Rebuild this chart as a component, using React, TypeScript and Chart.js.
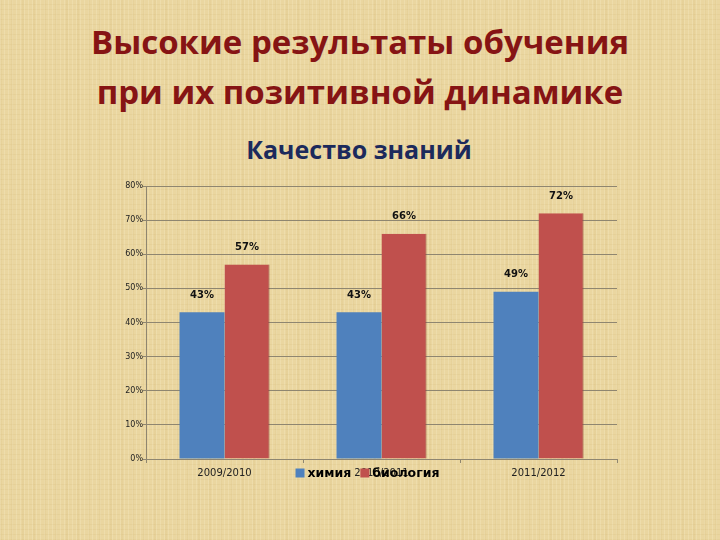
import React, { useEffect, useRef } from "react";
import { Chart, registerables } from "chart.js";

Chart.register(...registerables);

const categories = ["2009/2010", "2010/2011", "2011/2012"];
const seriesNames = ["химия", "биология"];
const chemistry = [43, 43, 49];
const biology = [57, 66, 72];
const yTicks = [0, 10, 20, 30, 40, 50, 60, 70, 80];

const BLUE = "#4F81BD";
const RED = "#C0504D";
const GRID = "#8f8670";

const valueLabels = {
  id: "valueLabels",
  afterDatasetsDraw(chart: any) {
    const ctx = chart.ctx;
    ctx.save();
    ctx.font = "bold 10px 'DejaVu Sans'";
    ctx.fillStyle = "#111";
    ctx.textAlign = "center";
    ctx.textBaseline = "middle";
    chart.data.datasets.forEach((ds: any, i: number) => {
      const meta = chart.getDatasetMeta(i);
      meta.data.forEach((bar: any, j: number) => {
        ctx.fillText(ds.data[j] + "%", bar.x, bar.y - 17);
      });
    });
    ctx.restore();
  },
};

const overlayLegend = {
  id: "overlayLegend",
  afterDraw(chart: any) {
    const ctx = chart.ctx;
    const xs = chart.scales.x;
    const box = 9;
    const gapText = 3;
    const gapItem = 9;
    ctx.save();
    ctx.font = "bold 12.5px 'DejaVu Sans'";
    const items = chart.data.datasets.map((ds: any) => ({
      label: ds.label,
      color: ds.backgroundColor,
      w: ctx.measureText(ds.label).width,
    }));
    const total = items.reduce((s: number, it: any) => s + box + gapText + it.w, 0) + gapItem * (items.length - 1);
    const cx = xs.getPixelForValue(1) - 14;
    const y = chart.chartArea.bottom + 14;
    let x = cx - total / 2;
    ctx.textBaseline = "middle";
    ctx.textAlign = "left";
    items.forEach((it: any) => {
      ctx.fillStyle = it.color;
      ctx.fillRect(x, y - box / 2, box, box);
      x += box + gapText;
      ctx.fillStyle = "#000";
      ctx.fillText(it.label, x, y + 1);
      x += it.w + gapItem;
    });
    ctx.restore();
  },
};

export default function App() {
  const ref = useRef<HTMLCanvasElement>(null);
  useEffect(() => {
    const prevMargin = document.body.style.margin;
    document.body.style.margin = "0";
    const chart = new Chart(ref.current!, {
      type: "bar",
      data: {
        labels: categories,
        datasets: [
          {
            label: seriesNames[0],
            data: chemistry,
            backgroundColor: BLUE,
            borderColor: "#3f6ea6",
            borderWidth: 0,
          },
          {
            label: seriesNames[1],
            data: biology,
            backgroundColor: RED,
            borderColor: "#8e3533",
            borderWidth: { right: 1, top: 0, left: 0, bottom: 0 },
          },
        ],
      },
      options: {
        animation: false,
        responsive: false,
        maintainAspectRatio: false,
        layout: { padding: { left: 106, right: 103, top: 186, bottom: 51 } },
        datasets: { bar: { categoryPercentage: 0.573, barPercentage: 1 } },
        plugins: {
          legend: { display: false },
          title: { display: false },
          tooltip: { enabled: false },
        },
        scales: {
          x: {
            afterFit: (s: any) => {
              s.height = 30;
            },
            grid: {
              display: true,
              offset: true,
              drawOnChartArea: false,
              color: GRID,
              tickLength: 4,
            },
            border: { display: true, color: GRID },
            ticks: {
              color: "#222",
              font: { family: "'DejaVu Sans'", size: 10 },
              padding: 4,
            },
          },
          y: {
            min: 0,
            max: 80,
            afterFit: (s: any) => {
              s.width = 40;
            },
            afterBuildTicks: (s: any) => {
              s.ticks = yTicks.map((v) => ({ value: v }));
            },
            grid: { color: GRID, tickLength: 3 },
            border: { display: true, color: GRID },
            ticks: {
              color: "#222",
              font: { family: "'DejaVu Sans'", size: 8 },
              padding: 0,
              callback: (v: any) => v + "%",
            },
          },
        },
      },
      plugins: [valueLabels, overlayLegend],
    });
    return () => {
      chart.destroy();
      document.body.style.margin = prevMargin;
    };
  }, []);

  const bg: React.CSSProperties = {
    position: "absolute",
    left: 0,
    top: 0,
    width: 720,
    height: 540,
    overflow: "hidden",
    backgroundColor: "#EAD6A0",
    backgroundImage:
      "repeating-linear-gradient(90deg, rgba(255,250,225,0.18) 0px, rgba(255,250,225,0.18) 1px, transparent 1px, transparent 4px)," +
      "repeating-linear-gradient(0deg, rgba(200,170,100,0.12) 0px, rgba(200,170,100,0.12) 1px, transparent 1px, transparent 5px)," +
      "repeating-linear-gradient(90deg, rgba(205,175,105,0.12) 0px, rgba(205,175,105,0.12) 2px, transparent 2px, transparent 11px)",
  };

  return (
    <div style={bg}>
      <div
        style={{
          position: "absolute",
          left: 0,
          top: 17,
          width: 720,
          textAlign: "center",
          fontFamily: "'Open Sans', sans-serif",
          fontWeight: 700,
          fontSize: 33,
          lineHeight: "50px",
          color: "#861414",
        }}
      >
        Высокие результаты обучения
        <br />
        при их позитивной динамике
      </div>
      <div
        style={{
          position: "absolute",
          left: 0,
          top: 134,
          width: 718,
          textAlign: "center",
          fontFamily: "'Open Sans', sans-serif",
          fontWeight: 700,
          fontSize: 25,
          lineHeight: "30px",
          color: "#1C2A5C",
        }}
      >
        Качество знаний
      </div>
      <canvas
        ref={ref}
        width={720}
        height={540}
        style={{ position: "absolute", left: 0, top: 0, width: 720, height: 540 }}
      />
    </div>
  );
}
